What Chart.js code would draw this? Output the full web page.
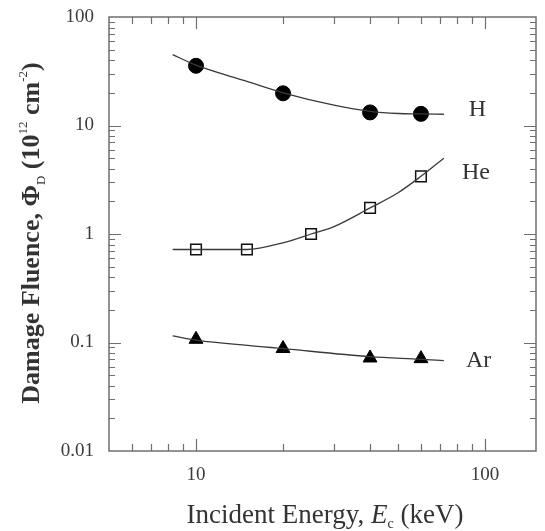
<!DOCTYPE html>
<html>
<head>
<meta charset="utf-8">
<script src="https://cdn.jsdelivr.net/npm/chart.js@4/dist/chart.umd.min.js"></script>
<style>
html,body{margin:0;padding:0;background:#fff;}
#wrap{width:545px;height:531px;position:relative;}
</style>
</head>
<body>
<div id="wrap"><canvas id="c" width="545" height="531"></canvas></div>
<script>
// ---- data ----
const hEnergy = [10, 20, 40, 60];
const hFluence = [35.5, 19.8, 13.2, 12.8];
const heEnergy = [10, 15, 25, 40, 60];
const heFluence = [0.72, 0.72, 1.0, 1.74, 3.4];
const arEnergy = [10, 20, 40, 60];
const arFluence = [0.107, 0.088, 0.072, 0.071];

const hFitEnergy = [8.3, 10, 15, 20, 30, 40, 50, 60, 72];
const hFitFluence = [45, 36, 25.5, 20, 15.4, 13.5, 12.9, 12.8, 12.7];
const heFitEnergy = [8.3, 10, 15, 20, 25, 30, 40, 50, 60, 72];
const heFitFluence = [0.72, 0.72, 0.72, 0.83, 1.0, 1.17, 1.74, 2.4, 3.4, 5.0];
const arFitEnergy = [8.3, 10, 20, 40, 60, 72];
const arFitFluence = [0.115, 0.105, 0.088, 0.074, 0.070, 0.068];

const xTickValues = [10, 100];
const xTickLabels = ['10', '100'];
const yTickValues = [0.01, 0.1, 1, 10, 100];
const yTickLabels = ['0.01', '0.1', '1', '10', '100'];
const seriesLabels = [
  {text: 'H', x: 94, y: 13.9},
  {text: 'He', x: 93, y: 3.65},
  {text: 'Ar', x: 95, y: 0.068}
];

const pts = (xs, ys) => xs.map((x, i) => ({x: x, y: ys[i]}));
const SERIF = '"Liberation Serif", "DejaVu Serif", serif';
const AXIS = '#6f6f6f';
const TEXT = '#333';

const fitStyle = {showLine: true, pointRadius: 0, borderColor: '#3a3a3a', borderWidth: 1.3, cubicInterpolationMode: 'monotone', fill: false};

const decorPlugin = {
  id: 'decor',
  afterDraw(chart) {
    const ctx = chart.ctx;
    const a = chart.chartArea;
    const xs = chart.scales.x, ys = chart.scales.y;
    ctx.save();
    ctx.strokeStyle = AXIS;
    ctx.lineWidth = 1.5;
    ctx.strokeRect(a.left, a.top, a.right - a.left, a.bottom - a.top);
    ctx.lineWidth = 1.2;
    const xMinor = [], yMinor = [];
    for (let d = 1; d <= 100; d *= 10) for (let m = 1; m <= 9; m++) {
      const v = m * d;
      if (v > xs.min && v < xs.max) xMinor.push({v: v, major: m === 1});
    }
    for (let d = 0.01; d < 100; d *= 10) for (let m = 1; m <= 9; m++) {
      const v = m * d;
      if (v > ys.min * 1.0001 && v < ys.max * 0.9999) yMinor.push({v: v, major: m === 1});
    }
    ctx.beginPath();
    xMinor.forEach(t => {
      const px = Math.round(xs.getPixelForValue(t.v)) + 0.5;
      const L = t.major ? 12 : 7;
      ctx.moveTo(px, a.bottom); ctx.lineTo(px, a.bottom - L);
      ctx.moveTo(px, a.top); ctx.lineTo(px, a.top + L);
    });
    yMinor.forEach(t => {
      const py = Math.round(ys.getPixelForValue(t.v)) + 0.5;
      const L = t.major ? 12 : 6;
      ctx.moveTo(a.left, py); ctx.lineTo(a.left + L, py);
      ctx.moveTo(a.right, py); ctx.lineTo(a.right - L, py);
    });
    ctx.stroke();

    ctx.fillStyle = '#3a3a3a';
    ctx.font = '19px ' + SERIF;
    ctx.textBaseline = 'middle';
    ctx.textAlign = 'center';
    xTickValues.forEach((v, i) => ctx.fillText(xTickLabels[i], xs.getPixelForValue(v), a.bottom + 24));
    ctx.textAlign = 'right';
    yTickValues.forEach((v, i) => ctx.fillText(yTickLabels[i], a.left - 15, ys.getPixelForValue(v)));

    ctx.fillStyle = TEXT;
    ctx.font = '24px ' + SERIF;
    ctx.textAlign = 'center';
    ctx.textBaseline = 'middle';
    seriesLabels.forEach(l => {
      ctx.fillText(l.text, xs.getPixelForValue(l.x), ys.getPixelForValue(l.y));
    });

    function drawRich(parts, cx, cy, base) {
      let w = 0;
      parts.forEach(p => {
        ctx.font = (p.style || '') + ' ' + (p.size || base) + 'px ' + SERIF;
        p.w = ctx.measureText(p.t).width;
        w += p.w;
      });
      let x = cx - w / 2;
      ctx.textAlign = 'left';
      ctx.textBaseline = 'alphabetic';
      parts.forEach(p => {
        ctx.font = (p.style || '') + ' ' + (p.size || base) + 'px ' + SERIF;
        ctx.fillText(p.t, x, cy + (p.dy || 0));
        x += p.w;
      });
    }
    drawRich([
      {t: 'Incident Energy, '},
      {t: 'E', style: 'italic'},
      {t: 'c', size: 14, dy: 5},
      {t: ' (keV)'}
    ], 325, 523, 27);
    ctx.save();
    ctx.translate(39, 233);
    ctx.rotate(-Math.PI / 2);
    drawRich([
      {t: 'Damage Fluence, \u03A6', style: 'bold'},
      {t: 'D', size: 13, dy: 6},
      {t: ' (10', style: 'bold'},
      {t: '12', size: 13, dy: -12},
      {t: ' cm', style: 'bold'},
      {t: '-2', size: 13, dy: -12},
      {t: ')', style: 'bold'}
    ], 0, 0, 26);
    ctx.restore();
    ctx.restore();
  }
};

new Chart(document.getElementById('c'), {
  type: 'scatter',
  data: {
    datasets: [
      Object.assign({label: 'H fit', data: pts(hFitEnergy, hFitFluence)}, fitStyle),
      Object.assign({label: 'He fit', data: pts(heFitEnergy, heFitFluence)}, fitStyle),
      Object.assign({label: 'Ar fit', data: pts(arFitEnergy, arFitFluence)}, fitStyle),
      {label: 'H', data: pts(hEnergy, hFluence), showLine: false, pointStyle: 'circle', pointRadius: 7.5, backgroundColor: '#000', borderColor: '#000', borderWidth: 1},
      {label: 'He', data: pts(heEnergy, heFluence), showLine: false, pointStyle: 'rect', pointRadius: 7.5, backgroundColor: '#fff', borderColor: '#111', borderWidth: 1.5},
      {label: 'Ar', data: pts(arEnergy, arFluence), showLine: false, pointStyle: 'triangle', pointRadius: 8, backgroundColor: '#000', borderColor: '#000', borderWidth: 1}
    ]
  },
  options: {
    responsive: false,
    animation: false,
    devicePixelRatio: 1,
    layout: {padding: {left: 0, top: 17, right: 1.5, bottom: 0}},
    plugins: {legend: {display: false}, tooltip: {enabled: false}},
    scales: {
      x: {
        type: 'logarithmic', min: 5, max: 150,
        grid: {display: false, drawTicks: false},
        border: {display: false},
        afterBuildTicks: s => { s.ticks = xTickValues.map(v => ({value: v})); },
        afterFit: s => { s.height = 80; },
        ticks: {display: false}
      },
      y: {
        type: 'logarithmic', min: 0.01, max: 100,
        grid: {display: false, drawTicks: false},
        border: {display: false},
        afterBuildTicks: s => { s.ticks = yTickValues.map(v => ({value: v})); },
        afterFit: s => { s.width = 109; },
        ticks: {display: false}
      }
    }
  },
  plugins: [decorPlugin]
});
</script>
</body>
</html>
